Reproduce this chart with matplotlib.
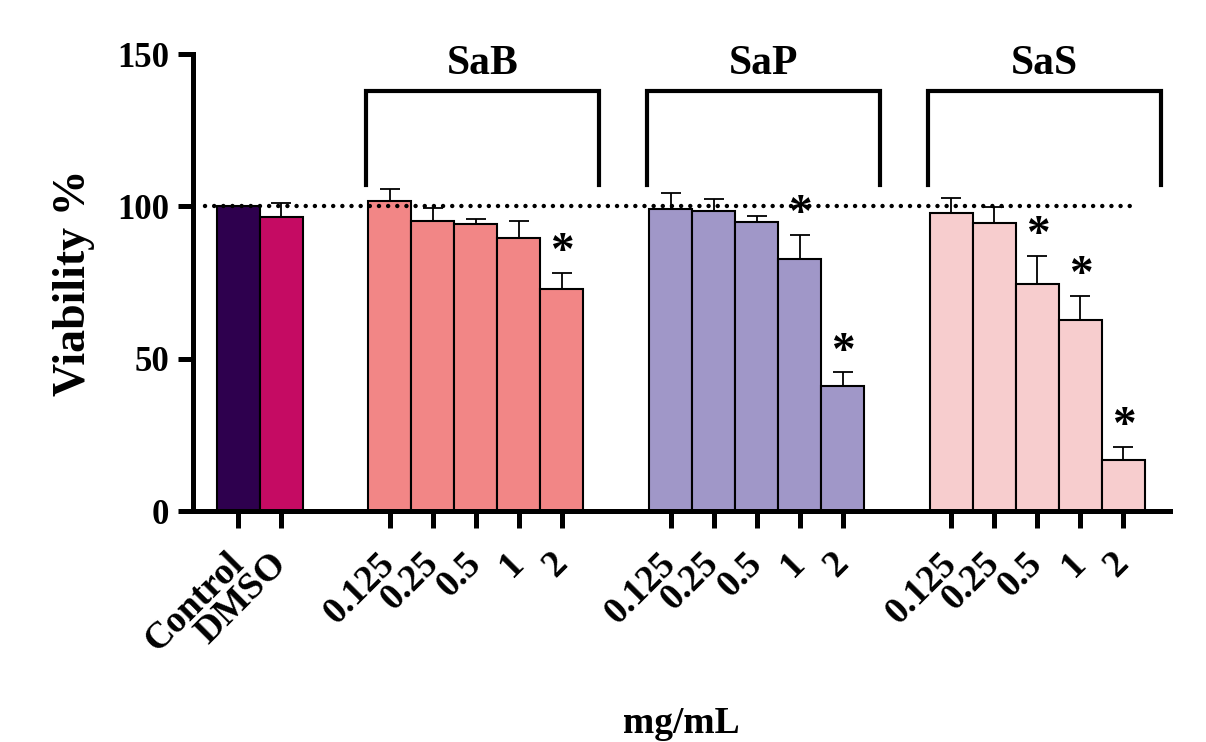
import numpy as np
import matplotlib
matplotlib.use("Agg")
import matplotlib.pyplot as plt

plt.rcParams['font.family'] = ['Liberation Serif', 'DejaVu Serif']
plt.rcParams['font.weight'] = 'bold'

# data
ctrl_labels = ['Control', 'DMSO']
ctrl_means = [100.0, 96.6]
ctrl_sd = [0.0, 4.4]
ctrl_colors = ['#2e004e', '#c50b63']

doses = ['0.125', '0.25', '0.5', '1', '2']
groups = ['SaB', 'SaP', 'SaS']
sab_means = [101.7, 95.2, 94.2, 89.5, 72.8]
sab_sd = [4.0, 4.1, 1.7, 5.8, 5.4]
sap_means = [99.2, 98.4, 95.0, 82.8, 41.0]
sap_sd = [5.1, 4.0, 1.9, 7.7, 4.5]
sas_means = [97.7, 94.6, 74.6, 62.6, 16.7]
sas_sd = [5.0, 5.1, 9.2, 8.0, 4.3]
sab_sig = [False, False, False, False, True]
sap_sig = [False, False, False, True, True]
sas_sig = [False, False, True, True, True]
group_colors = ['#f28686', '#a097c8', '#f7cdce']

group_means = [sab_means, sap_means, sas_means]
group_sd = [sab_sd, sap_sd, sas_sd]
group_sig = [sab_sig, sap_sig, sas_sig]

fig = plt.figure(figsize=(12.06, 7.42), dpi=100)
ax = fig.add_axes([0.16, 0.3113, 0.81, 0.6159])

gap = 2.53
err_kw = dict(ecolor='black', elinewidth=1.3, capsize=7.5, capthick=1.3)

ticks = []
ticklabels = []

# controls
xc = np.arange(len(ctrl_labels), dtype=float)
ax.bar(xc, ctrl_means, width=1.0, color=ctrl_colors, edgecolor='black',
       linewidth=1.5, zorder=2)
ax.errorbar(xc[1:], ctrl_means[1:], yerr=[[0], ctrl_sd[1:]], fmt='none',
            zorder=1, **err_kw)
ticks += list(xc)
ticklabels += ctrl_labels

start = xc[-1] + gap
for g, name in enumerate(groups):
    x = start + np.arange(len(doses))
    means = group_means[g]
    sd = group_sd[g]
    ax.bar(x, means, width=1.0, color=group_colors[g], edgecolor='black',
           linewidth=1.5, zorder=2)
    ax.errorbar(x, means, yerr=[np.zeros(len(sd)), sd], fmt='none',
                zorder=1, **err_kw)
    for xi, m, s, sig in zip(x, means, sd, group_sig[g]):
        if sig:
            ax.text(xi, m + s + 6.5, '*', ha='center', va='center',
                    fontsize=34, fontweight='bold', zorder=5)
    # bracket + group label
    bl = x[0] - 0.55
    br = x[-1] + 0.87
    ax.plot([bl, bl, br, br], [107, 138, 138, 107], color='black',
            linewidth=3.0, solid_joinstyle='miter', clip_on=False, zorder=4)
    ax.text((bl + br) / 2, 143.5, name, ha='center', va='baseline',
            fontsize=30, fontweight='bold')
    ticks += list(x)
    ticklabels += doses
    start = x[-1] + gap

# reference line at 100 %
ax.plot([-0.77, 20.87], [100, 100], color='black', linewidth=3.2,
        linestyle=(0, (0.01, 2.05)), dash_capstyle='round', zorder=6)

ax.set_xlim(-1.05, 21.67)
ax.set_ylim(0, 150)
ax.set_yticks([0, 50, 100, 150])
ax.set_xticks(ticks)
ax.set_xticklabels(ticklabels, rotation=45, ha='right', va='center',
                   rotation_mode='anchor', fontsize=27, fontweight='bold')
for lab in ax.get_yticklabels():
    lab.set_fontsize(25)
    lab.set_fontweight('bold')

for side in ['top', 'right']:
    ax.spines[side].set_visible(False)
for side in ['left', 'bottom']:
    ax.spines[side].set_linewidth(3.6)
ax.tick_params(axis='y', length=11, width=3.6, pad=6)
ax.tick_params(axis='x', length=12, width=3.6, pad=22)

ax.set_ylabel('Viability %', fontsize=33, fontweight='bold', labelpad=16)
fig.text(0.565, 0.001, 'mg/mL', ha='center', va='bottom', fontsize=27,
         fontweight='bold')

fig.savefig('out.png', dpi=100)
